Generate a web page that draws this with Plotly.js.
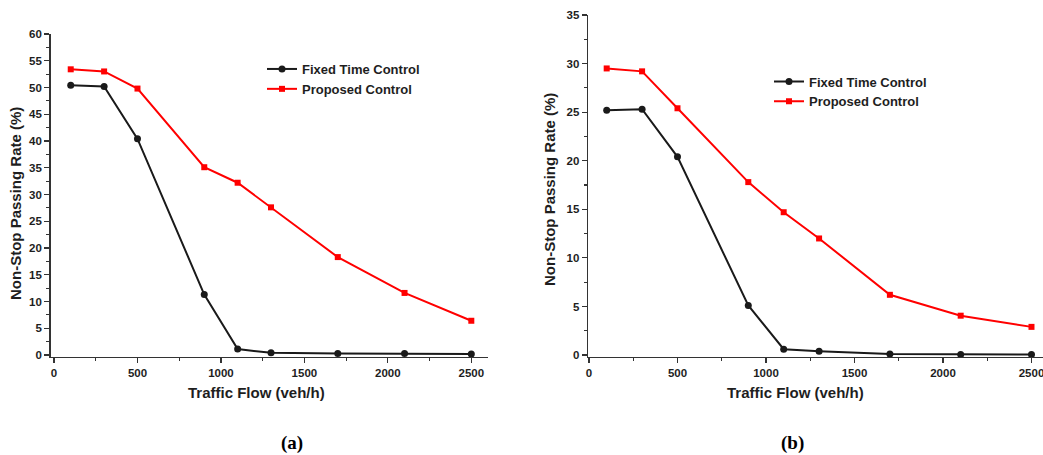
<!DOCTYPE html>
<html>
<head>
<meta charset="utf-8">
<script src="https://cdn.plot.ly/plotly-3.0.1.min.js"></script>
<style>html,body{margin:0;padding:0;background:#fff;}#chart{width:1043px;height:455px;}</style>
</head>
<body>
<div id="chart"></div>
<script>
// ---- data ----
const flow = [100, 300, 500, 900, 1100, 1300, 1700, 2100, 2500];
const fixedA = [50.4, 50.2, 40.4, 11.3, 1.1, 0.4, 0.3, 0.3, 0.2];
const proposedA = [53.4, 53.0, 49.8, 35.1, 32.2, 27.6, 18.3, 11.6, 6.4];
const fixedB = [25.2, 25.3, 20.4, 5.1, 0.6, 0.4, 0.1, 0.05, 0.05];
const proposedB = [29.5, 29.2, 25.4, 17.8, 14.7, 12.0, 6.2, 4.05, 2.9];
const seriesNames = ["Fixed Time Control", "Proposed Control"];
const xTicks = [0, 500, 1000, 1500, 2000, 2500];
const xTitle = "Traffic Flow (veh/h)";
const yTitle = "Non-Stop Passing Rate (%)";
const captions = ["(a)", "(b)"];

const W = 1043, H = 455;
const px = v => v / W;
const py = v => 1 - v / H;
const bold = s => "<b>" + s + "</b>";

const blackLine = {color: "#1a1a1a", width: 2};
const redLine = {color: "#ff0000", width: 2};
const blackMarker = {symbol: "circle", size: 7, color: "#1a1a1a"};
const redMarker = {symbol: "square", size: 6, color: "#ff0000"};

const traces = [
  {x: flow, y: fixedA, name: bold(seriesNames[0]), mode: "lines+markers", line: blackLine, marker: blackMarker, xaxis: "x", yaxis: "y", legend: "legend", cliponaxis: false},
  {x: flow, y: proposedA, name: bold(seriesNames[1]), mode: "lines+markers", line: redLine, marker: redMarker, xaxis: "x", yaxis: "y", legend: "legend", cliponaxis: false},
  {x: flow, y: fixedB, name: bold(seriesNames[0]), mode: "lines+markers", line: blackLine, marker: blackMarker, xaxis: "x2", yaxis: "y2", legend: "legend2", cliponaxis: false},
  {x: flow, y: proposedB, name: bold(seriesNames[1]), mode: "lines+markers", line: redLine, marker: redMarker, xaxis: "x2", yaxis: "y2", legend: "legend2", cliponaxis: false}
];

const tickFont = {family: "Liberation Sans, Arial, sans-serif", size: 11.5, color: "#1e1e1e"};
const titleFont = {family: "Liberation Sans, Arial, sans-serif", size: 15, color: "#1e1e1e"};
const axisColor = "#333";

function xAxis(domain, range) {
  return {
    domain: domain, range: range,
    tickvals: xTicks, ticktext: xTicks.map(v => bold(String(v))),
    ticks: "outside", ticklen: 5, tickwidth: 1.2, tickcolor: axisColor,
    minor: {tickvals: [250, 750, 1250, 1750, 2250], ticks: "outside", ticklen: 3, tickcolor: axisColor, showgrid: false},
    showline: true, linecolor: axisColor, linewidth: 1.5,
    showgrid: false, zeroline: false, ticklabeloverflow: "allow",
    tickfont: tickFont, fixedrange: true
  };
}
function yAxis(domain, range, maxv) {
  const major = [], minor = [];
  for (let v = 0; v <= maxv; v += 5) major.push(v);
  for (let v = 2.5; v < maxv; v += 5) minor.push(v);
  return {
    domain: domain, range: range,
    tickvals: major, ticktext: major.map(v => bold(String(v))),
    ticks: "outside", ticklen: 5, tickwidth: 1.2, tickcolor: axisColor,
    minor: {tickvals: minor, ticks: "outside", ticklen: 3, tickcolor: axisColor, showgrid: false},
    showline: true, linecolor: axisColor, linewidth: 1.5,
    showgrid: false, zeroline: false,
    tickfont: tickFont, fixedrange: true
  };
}
function gridAxis(overlay, domain, range, maxv) {
  const g = [];
  for (let v = 5; v < maxv; v += 5) g.push(v);
  return {
    overlaying: overlay, domain: domain, range: range,
    tickvals: g, showticklabels: false, ticks: "",
    showgrid: true, gridcolor: "#e6e6e6", gridwidth: 1,
    showline: false, zeroline: false, fixedrange: true
  };
}

const xDomA = [px(50.7), px(488)];
const xRangeA = [-20, 2600];
const yDomA = [py(356.6), py(34)];
const yRangeA = [-0.3, 60];

const xDomB = [px(588.1), 1];
const xRangeB = [-5, 2565];
const yDomB = [py(356.5), py(15)];
const yRangeB = [-0.15, 35];

const legendFont = {family: "Liberation Sans, Arial, sans-serif", size: 13, color: "#1e1e1e"};

const layout = {
  width: W, height: H,
  margin: {l: 0, r: 0, t: 0, b: 0},
  paper_bgcolor: "#fff", plot_bgcolor: "rgba(0,0,0,0)",
  showlegend: true,
  xaxis: Object.assign(xAxis(xDomA, xRangeA), {anchor: "y"}),
  yaxis: Object.assign(yAxis(yDomA, yRangeA, 60), {anchor: "x"}),
  xaxis2: Object.assign(xAxis(xDomB, xRangeB), {anchor: "y2"}),
  yaxis2: Object.assign(yAxis(yDomB, yRangeB, 35), {anchor: "x2"}),
  yaxis3: Object.assign(gridAxis("y", yDomA, yRangeA, 60), {anchor: "x"}),
  yaxis4: Object.assign(gridAxis("y2", yDomB, yRangeB, 35), {anchor: "x2"}),
  legend: {
    x: px(262), y: py(54), xanchor: "left", yanchor: "top",
    bgcolor: "rgba(0,0,0,0)", borderwidth: 0, font: legendFont,
    tracegroupgap: 0, itemwidth: 30
  },
  legend2: {
    x: px(769), y: py(66.5), xanchor: "left", yanchor: "top",
    bgcolor: "rgba(0,0,0,0)", borderwidth: 0, font: legendFont,
    tracegroupgap: 0, itemwidth: 30
  },
  annotations: [
    {text: bold(xTitle), xref: "paper", yref: "paper", x: px(256), y: py(392), xanchor: "center", yanchor: "middle", showarrow: false, font: titleFont},
    {text: bold(xTitle), xref: "paper", yref: "paper", x: px(795), y: py(392), xanchor: "center", yanchor: "middle", showarrow: false, font: titleFont},
    {text: bold(yTitle), xref: "paper", yref: "paper", x: px(16), y: py(204), xanchor: "center", yanchor: "middle", textangle: -90, showarrow: false, font: titleFont},
    {text: bold(yTitle), xref: "paper", yref: "paper", x: px(549), y: py(190), xanchor: "center", yanchor: "middle", textangle: -90, showarrow: false, font: titleFont},
    {text: bold(captions[0]), xref: "paper", yref: "paper", x: px(291.5), y: py(443), xanchor: "center", yanchor: "middle", showarrow: false, font: {family: "Liberation Serif, Times New Roman, serif", size: 19, color: "#000"}},
    {text: bold(captions[1]), xref: "paper", yref: "paper", x: px(792), y: py(443), xanchor: "center", yanchor: "middle", showarrow: false, font: {family: "Liberation Serif, Times New Roman, serif", size: 19, color: "#000"}}
  ]
};

Plotly.newPlot("chart", traces, layout, {staticPlot: true, displayModeBar: false});
</script>
</body>
</html>
